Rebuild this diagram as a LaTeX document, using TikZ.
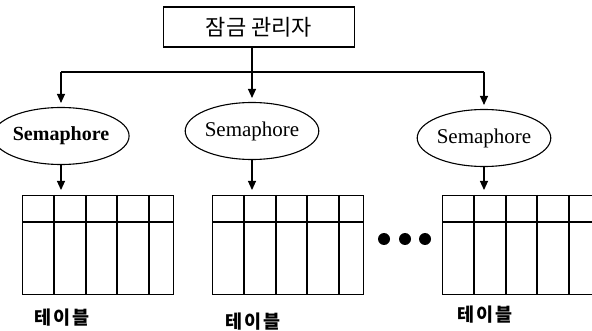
\documentclass[tikz,border=0pt]{standalone}
\usepackage{fontspec}
\setmainfont{Liberation Serif}
\newfontfamily\kor{Noto Sans CJK KR}
\newfontfamily\korw[LetterSpace=12]{Noto Sans CJK KR}
\usetikzlibrary{positioning,shapes,calc,arrows.meta}

\begin{document}
\begin{tikzpicture}[x=1pt,y=-1pt,line width=1.1pt,
	sema/.style={draw, ellipse, inner sep=0pt, minimum width=110pt, minimum height=57pt, font=\fontsize{21}{22}\selectfont},
	tbl/.style={draw, rectangle, inner sep=0pt, minimum width=151pt, minimum height=99pt, anchor=north west},
	lbl/.style={font=\korw\bfseries\fontsize{18.5}{19}\selectfont},
	arr/.style={-{Triangle[length=9pt,width=8pt]}}]
				\useasboundingbox (0,0) rectangle (592,331);
				\node[draw, rectangle, minimum width=191pt, minimum height=40pt, font=\kor\fontsize{22}{24}\selectfont] (mgr) at (259,27) {잠금 관리자};
				\node[sema, font=\bfseries\fontsize{20}{22}\selectfont] (sem1) at (61,136) {Semaphore};
				\node[sema] (sem2) at (252,131) {Semaphore};
				\node[sema] (sem3) at (484,138) {Semaphore};
				\coordinate (bus) at (0,72);
				% lock manager to the semaphores
				\draw (mgr.south -| sem2.north) -- (bus -| sem2.north);
				\draw (bus -| sem1.north) -- (bus -| sem3.north);
				\draw[arr, shorten >=4pt] (bus -| sem1.north) -- (sem1.north);
				\draw[arr, shorten >=4pt] (bus -| sem2.north) -- (sem2.north);
				\draw[arr, shorten >=4pt] (bus -| sem3.north) -- (sem3.north);
				% tables
				\node[tbl] (tbl1) at (22,195) {};
				\node[tbl] (tbl2) at (212,195) {};
				\node[tbl] (tbl3) at (442,195) {};
				\foreach \t in {tbl1,tbl2,tbl3} {
					\draw ($(\t.north west)+(0,27)$) -- ($(\t.north east)+(0,27)$);
					\foreach \c in {32,64,95,127}
						\draw ($(\t.north west)+(\c,0)$) -- ($(\t.south west)+(\c,0)$);
				}
				\draw[arr, shorten >=5pt] (sem1.south) -- (sem1.south |- tbl1.north);
				\draw[arr, shorten >=5pt] (sem2.south) -- (sem2.south |- tbl2.north);
				\draw[arr, shorten >=5pt] (sem3.south) -- (sem3.south |- tbl3.north);
				% dots between the tables
				\foreach \x in {384,405,425}
					\fill (\x,239) circle (6pt);
				\node[lbl] (lab1) at (62,318) {테이블};
				\node[lbl] (lab2) at (253,322) {테이블};
				\node[lbl] (lab3) at (485,315) {테이블};
\end{tikzpicture}
\end{document}
